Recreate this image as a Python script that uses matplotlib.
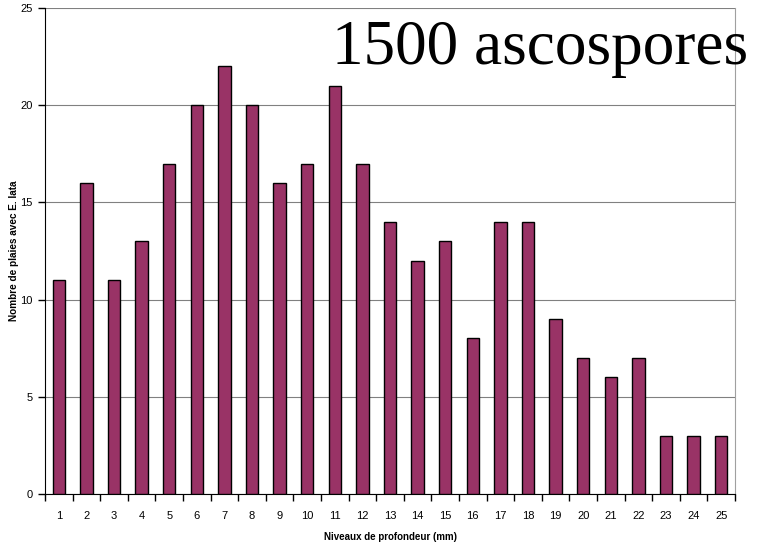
import matplotlib.pyplot as plt
import numpy as np

niveaux = [str(i) for i in range(1, 26)]
plaies = [11, 16, 11, 13, 17, 20, 22, 20, 16, 17, 21, 17, 14, 12, 13,
          8, 14, 14, 9, 7, 6, 7, 3, 3, 3]
y_ticks = [0, 5, 10, 15, 20, 25]

fig = plt.figure(figsize=(7.6, 5.48), dpi=100)
ax = fig.add_axes([45 / 760, 54 / 548, 690 / 760, 486 / 548])

x = np.arange(len(niveaux))
ax.bar(x, plaies, width=0.45, color='#993366', edgecolor='black', linewidth=1.0, zorder=3)

ax.set_xlim(-0.5, len(niveaux) - 0.5)
ax.set_ylim(0, 25)
ax.set_yticks(y_ticks)
ax.set_xticks(x)
ax.set_xticklabels(niveaux)
ax.set_xticks(np.arange(-0.5, len(niveaux), 1.0), minor=True)
ax.tick_params(axis='x', which='major', length=0, pad=12)
ax.tick_params(axis='x', which='minor', length=5, width=1, direction='out')
ax.tick_params(axis='y', length=5, width=1, direction='out', pad=4)
for lbl in ax.get_xticklabels() + ax.get_yticklabels():
    lbl.set_fontfamily('Liberation Sans')
    lbl.set_fontsize(8)

ax.grid(axis='y', color='#808080', linewidth=0.8, zorder=0)
ax.spines['left'].set_color('black')
ax.spines['bottom'].set_color('black')
ax.spines['top'].set_visible(False)
ax.spines['right'].set_color('#a0a0a0')

ax.set_xlabel('Niveaux de profondeur (mm)', fontfamily='Liberation Sans',
              fontsize=7, fontweight='bold', labelpad=8)
ax.set_ylabel('Nombre de plaies avec E. lata', fontfamily='Liberation Sans',
              fontsize=7.2, fontweight='bold')
ax.yaxis.set_label_coords(-26 / 690, 0.5)

fig.text(748 / 760, 1 - 49 / 548, '1500 ascospores', fontfamily='Liberation Serif',
         fontsize=45.5, ha='right', va='center')

fig.savefig('out.png', dpi=100)
